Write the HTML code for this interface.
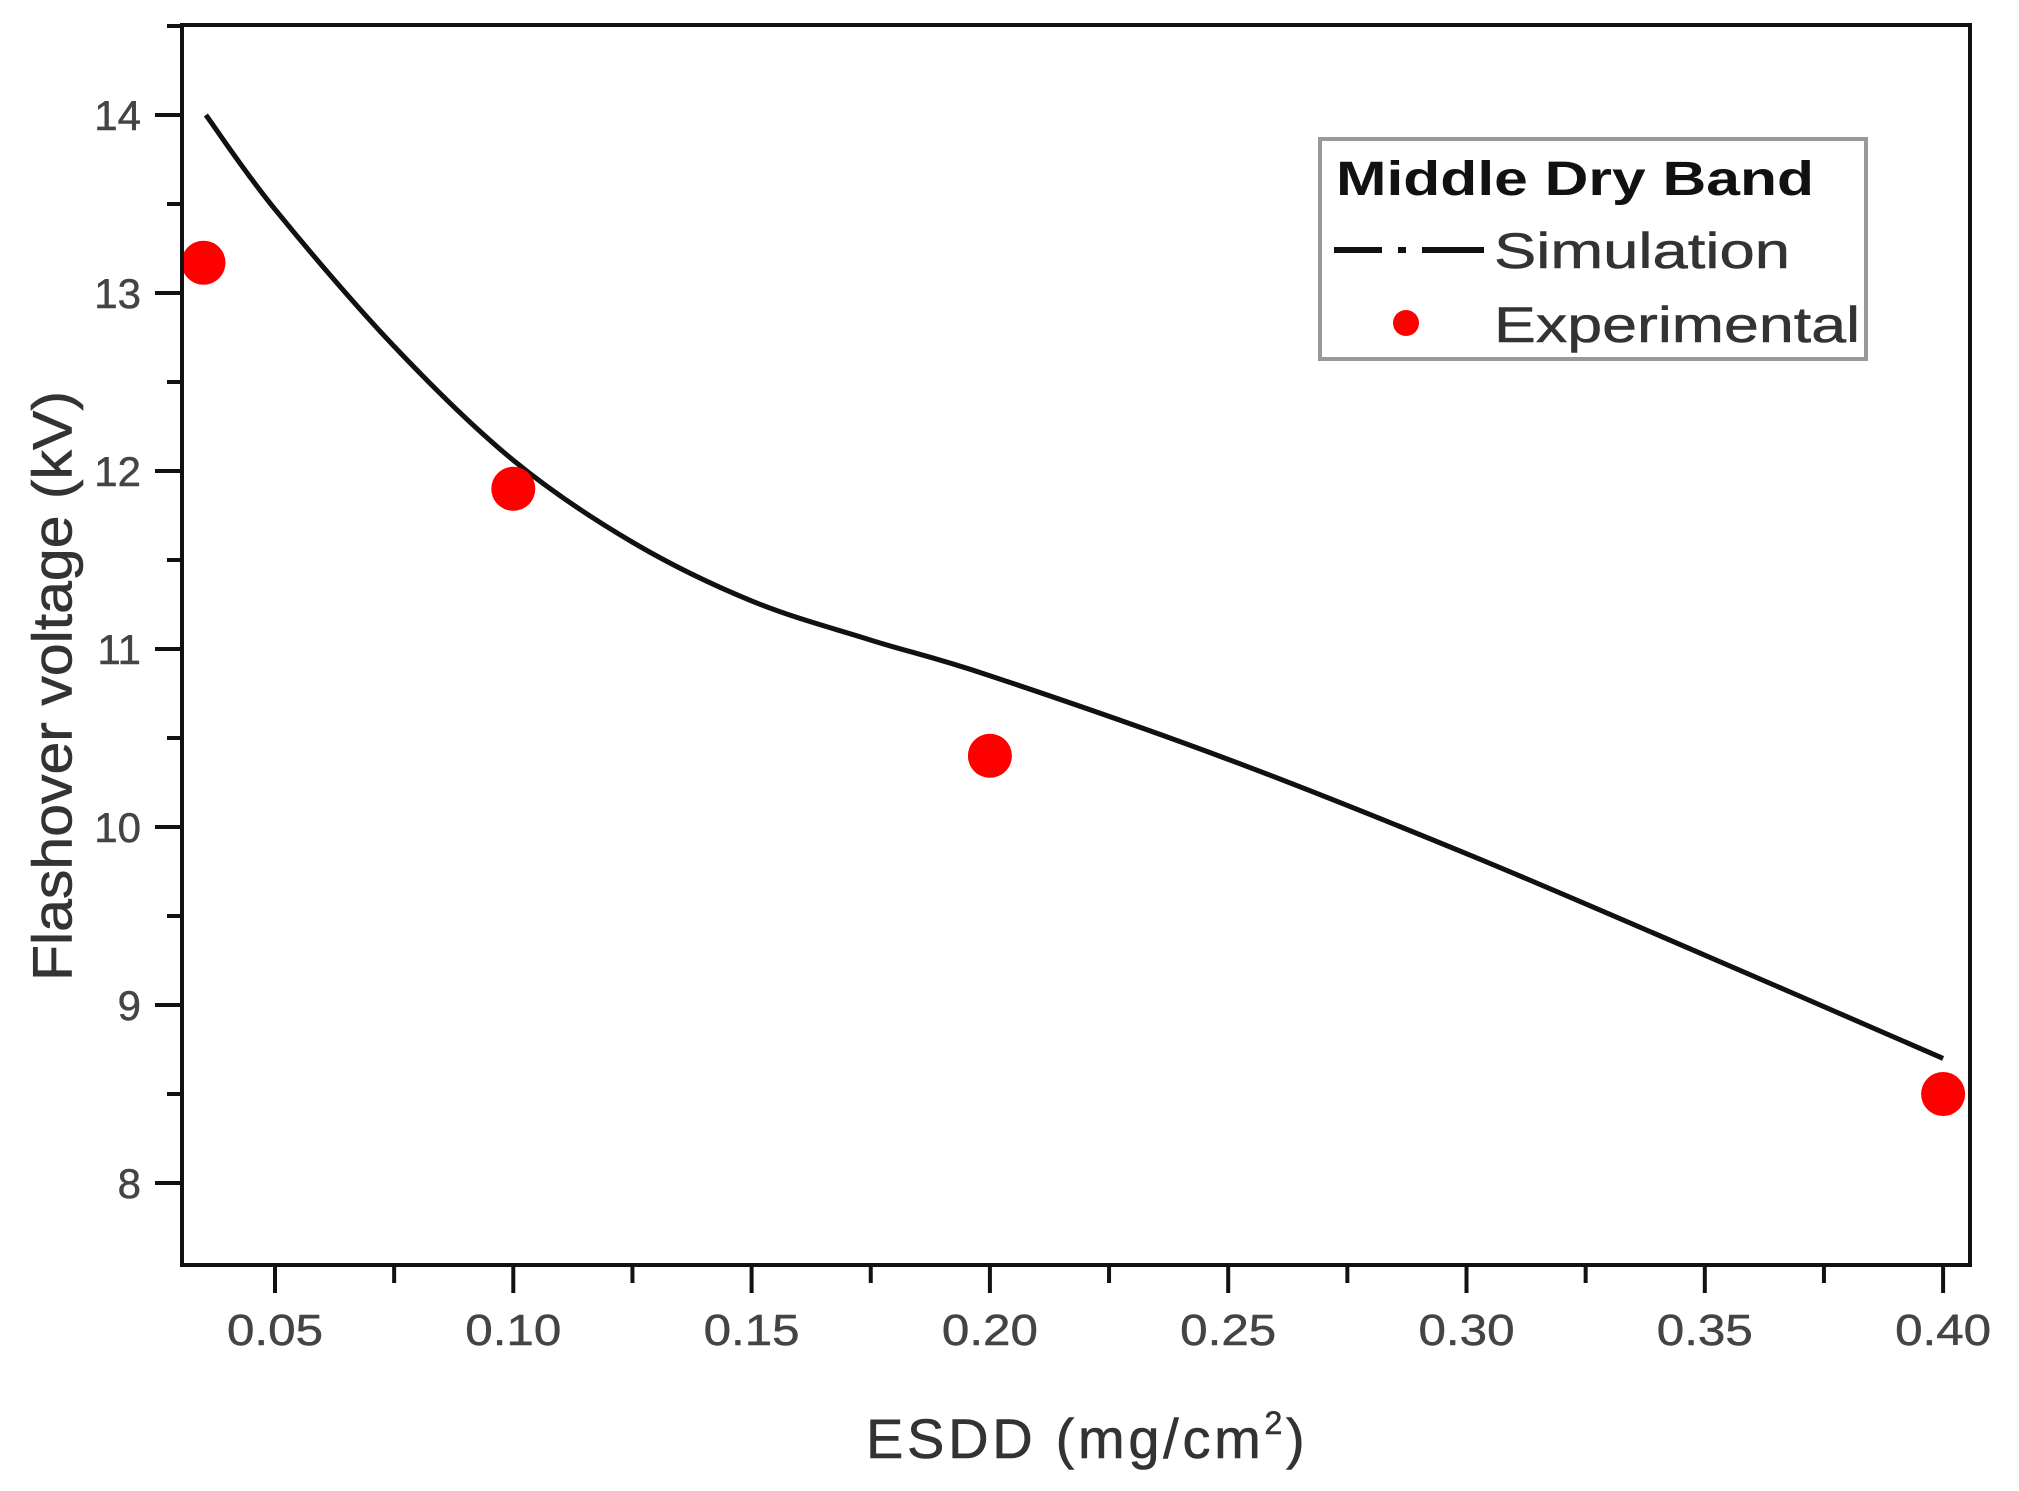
<!DOCTYPE html>
<html><head><meta charset="utf-8"><style>
html,body{margin:0;padding:0;background:#fff;}
svg{display:block;font-family:"Liberation Sans",Arial,sans-serif;}
</style></head><body>
<svg id="chart" width="2019" height="1491" viewBox="0 0 2019 1491">
<rect width="2019" height="1491" fill="#fff"/>
<g id="marks"></g>
<rect x="182" y="25" width="1788" height="1240" fill="none" stroke="#111" stroke-width="4"/>
<text transform="translate(52,686) rotate(-90)" text-anchor="middle" dominant-baseline="central" font-size="56" fill="#333" stroke="#333" stroke-width="0.6" textLength="590" lengthAdjust="spacingAndGlyphs">Flashover voltage (kV)</text>
<text x="866" y="1458" font-size="56" fill="#333" stroke="#333" stroke-width="0.6" letter-spacing="3.7">ESDD (mg/cm<tspan font-size="32" dy="-24">2</tspan><tspan dy="24">)</tspan></text>
<g>
<rect x="1320" y="139" width="546" height="220" fill="#fff" stroke="#999" stroke-width="4"/>
<text x="1336" y="195" font-size="48" font-weight="bold" fill="#111" textLength="478" lengthAdjust="spacingAndGlyphs">Middle Dry Band</text>
<line x1="1334" y1="250" x2="1484" y2="250" stroke="#111" stroke-width="6" stroke-dasharray="48,16,8,16,70"/>
<text x="1494" y="268" font-size="50" fill="#333" stroke="#333" stroke-width="0.5" textLength="296" lengthAdjust="spacingAndGlyphs">Simulation</text>
<circle cx="1406" cy="323" r="13" fill="#f00"/>
<text x="1494" y="342" font-size="50" fill="#333" stroke="#333" stroke-width="0.5" textLength="366" lengthAdjust="spacingAndGlyphs">Experimental</text>
</g>
</svg>
<script>
const simX = [0.0355,0.05,0.075,0.10,0.125,0.15,0.175,0.20,0.25,0.30,0.35,0.40];
const simY = [14.0,13.47,12.70,12.06,11.6,11.27,11.05,10.85,10.38,9.85,9.28,8.7];
const expX = [0.035,0.10,0.20,0.40];
const expY = [13.17,11.9,10.4,8.5];
const xTicks = [0.05,0.10,0.15,0.20,0.25,0.30,0.35,0.40];
const xTickLabels = ["0.05","0.10","0.15","0.20","0.25","0.30","0.35","0.40"];
const yTicks = [8,9,10,11,12,13,14];
const yTickLabels = ["8","9","10","11","12","13","14"];

const NS="http://www.w3.org/2000/svg";
const X = v => 275 + (v-0.05)/0.05*238.3;
const Y = v => 115 + (14-v)*178;
const g = document.getElementById('marks');
function mk(t,a){const e=document.createElementNS(NS,t);for(const k in a)e.setAttribute(k,a[k]);g.appendChild(e);return e;}

xTicks.forEach((v,i)=>{
  const t=mk('line',{x1:X(v),x2:X(v),y1:1265,y2:1293,stroke:'#111','stroke-width':4});
  
  
  if(X(v-0.025)>182){
    const m=mk('line',{x1:X(v-0.025),x2:X(v-0.025),y1:1265,y2:1283,stroke:'#111','stroke-width':4});
    
    
  }
  const l=mk('text',{x:X(v),y:1345,'text-anchor':'middle','font-size':44,fill:'#444',stroke:'#444','stroke-width':0.5,textLength:96,lengthAdjust:'spacingAndGlyphs'});
  l.textContent=xTickLabels[i];
  
  
});
yTicks.forEach((v,i)=>{
  const t=mk('line',{x1:155,x2:182,y1:Y(v),y2:Y(v),stroke:'#111','stroke-width':4});
  
  
  const m=mk('line',{x1:167,x2:182,y1:Y(v+0.5),y2:Y(v+0.5),stroke:'#111','stroke-width':4});
  
  
  const l=mk('text',{x:141,y:Y(v)+15,'text-anchor':'end','font-size':42,fill:'#444',stroke:'#444','stroke-width':0.5});
  l.textContent=yTickLabels[i];
  
  
});
const pts=simX.map((x,i)=>[X(x),Y(simY[i])]);
let d='M'+pts[0][0]+','+pts[0][1];
for(let i=0;i<pts.length-1;i++){
  const p0=pts[Math.max(0,i-1)],p1=pts[i],p2=pts[i+1],p3=pts[Math.min(pts.length-1,i+2)];
  const c1=[p1[0]+(p2[0]-p0[0])/6,p1[1]+(p2[1]-p0[1])/6];
  const c2=[p2[0]-(p3[0]-p1[0])/6,p2[1]-(p3[1]-p1[1])/6];
  d+=` C${c1[0]},${c1[1]} ${c2[0]},${c2[1]} ${p2[0]},${p2[1]}`;
}
const line=mk('path',{d:d,fill:'none',stroke:'#111','stroke-width':5});


expX.forEach((x,i)=>{
  const c=mk('circle',{cx:X(x),cy:Y(expY[i]),r:22,fill:'#f00'});
  
  
});
</script>
</body></html>
